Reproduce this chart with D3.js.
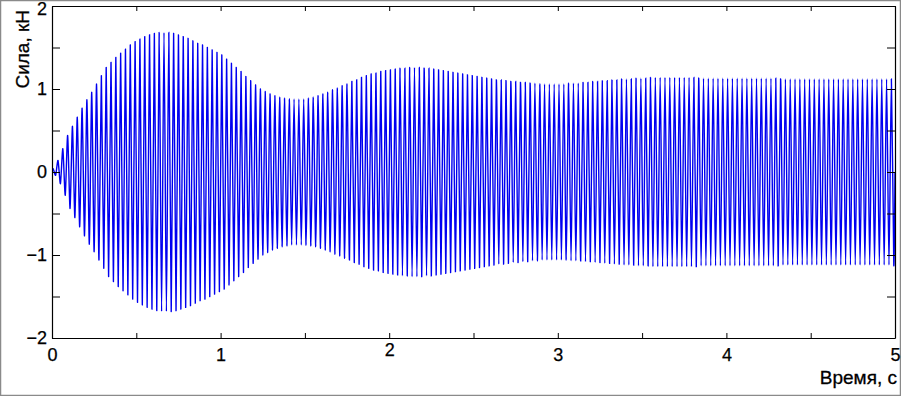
<!DOCTYPE html>
<html>
<head>
<meta charset="utf-8">
<script src="https://d3js.org/d3.v7.min.js"></script>
<style>
body { margin: 0; background: #fff; }
svg { display: block; font-family: "Liberation Sans", Arial, sans-serif; }
.axis path, .axis line { stroke: #000; }
.axis text { font-size: 18px; fill: #000; stroke: #000; stroke-width: 0.25; }
.title { stroke: #000; stroke-width: 0.3; }
</style>
</head>
<body>
<script>

/* signal: one amplitude per oscillation cycle (kN) */
var cycleHz = 35;
var peakAmp = [
  0.04, 0.14, 0.28, 0.44, 0.55, 0.66, 0.77, 0.87, 0.96, 1.06,
  1.16, 1.26, 1.32, 1.38, 1.43, 1.48, 1.53, 1.57, 1.60, 1.63,
  1.65, 1.67, 1.68, 1.68, 1.68, 1.67, 1.65, 1.63, 1.61, 1.58,
  1.55, 1.53, 1.50, 1.47, 1.44, 1.41, 1.36, 1.31, 1.26, 1.21,
  1.15, 1.10, 1.05, 1.00, 0.97, 0.94, 0.92, 0.90, 0.89, 0.88,
  0.88, 0.88, 0.88, 0.89, 0.90, 0.92, 0.94, 0.96, 0.99, 1.01,
  1.04, 1.06, 1.09, 1.11, 1.14, 1.16, 1.18, 1.19, 1.21, 1.22,
  1.23, 1.24, 1.25, 1.25, 1.26, 1.26, 1.26, 1.25, 1.25, 1.24,
  1.23, 1.22, 1.21, 1.20, 1.19, 1.18, 1.17, 1.16, 1.15, 1.14,
  1.13, 1.12, 1.11, 1.11, 1.10, 1.09, 1.09, 1.08, 1.08, 1.07,
  1.07, 1.06, 1.06, 1.06, 1.06, 1.06, 1.06, 1.07, 1.07, 1.07,
  1.08, 1.08, 1.09, 1.09, 1.10, 1.10, 1.11, 1.11, 1.12, 1.12,
  1.12, 1.13, 1.13, 1.13, 1.14, 1.14, 1.14, 1.14, 1.14, 1.14,
  1.14, 1.14, 1.14, 1.14, 1.13, 1.13, 1.13, 1.13, 1.13, 1.13,
  1.13, 1.13, 1.13, 1.13, 1.13, 1.13, 1.13, 1.13, 1.13, 1.13,
  1.13, 1.12, 1.12, 1.12, 1.12, 1.12, 1.12, 1.12, 1.12, 1.12,
  1.12, 1.12, 1.12, 1.12, 1.12, 1.12, 1.12, 1.12, 1.12, 1.12,
  1.12, 1.12, 1.12, 1.12, 1.12
];

var xTicks = [0, 0.5, 1, 1.5, 2, 2.5, 3, 3.5, 4, 4.5, 5];
var yTicks = [-2, -1.5, -1, -0.5, 0, 0.5, 1, 1.5, 2];
var xLabel = "Время, с";
var yLabel = "Сила, кН";

var W = 901, H = 396;
var pLeft = 52, pRight = 895, pTop = 6, pBottom = 338;

var svg = d3.select("body").append("svg")
  .attr("width", W)
  .attr("height", H);

// grey frame round the figure
svg.append("rect")
  .attr("x", 0.5).attr("y", 0.5)
  .attr("width", W - 1).attr("height", H - 1)
  .attr("fill", "#fff")
  .attr("stroke", "#8a8a8a")
  .attr("stroke-width", 1.5);

var x = d3.scaleLinear().domain([0, 5]).range([pLeft, pRight]);
var y = d3.scaleLinear().domain([-2, 2]).range([pBottom, pTop]);

var fmt = function(d) {
  return Number.isInteger(d) ? d3.format("d")(d) : "";
};

// build the line: zero start, then +A / -A for each cycle
var pts = [[0, 0]];
peakAmp.forEach(function(a, i) {
  pts.push([(i + 0.25) / cycleHz, a]);
  pts.push([(i + 0.75) / cycleHz, -a]);
});
pts.push([5, 0]);

svg.append("clipPath").attr("id", "clip")
  .append("rect")
  .attr("x", pLeft).attr("y", pTop)
  .attr("width", pRight - pLeft).attr("height", pBottom - pTop);

var line = d3.line()
  .x(function(d) { return x(d[0]); })
  .y(function(d) { return y(d[1]); })
  .curve(d3.curveCardinal.tension(0.3));

svg.append("path")
  .datum(pts)
  .attr("clip-path", "url(#clip)")
  .attr("fill", "none")
  .attr("stroke", "#0000f0")
  .attr("stroke-width", 1.4)
  .attr("d", line);

/* axes, ticks pointing inward on all four sides */
svg.append("g").attr("class", "axis")
  .attr("transform", "translate(0," + pBottom + ")")
  .call(d3.axisBottom(x).tickValues(xTicks).tickFormat(fmt)
    .tickSizeInner(-5).tickSizeOuter(0).tickPadding(10));

svg.append("g").attr("class", "axis")
  .attr("transform", "translate(0," + pTop + ")")
  .call(d3.axisTop(x).tickValues(xTicks).tickFormat("")
    .tickSizeInner(-5).tickSizeOuter(0));

svg.append("g").attr("class", "axis")
  .attr("transform", "translate(" + pLeft + ",0)")
  .call(d3.axisLeft(y).tickValues(yTicks).tickFormat(fmt)
    .tickSizeInner(-8).tickSizeOuter(0).tickPadding(5));

svg.append("g").attr("class", "axis")
  .attr("transform", "translate(" + pRight + ",0)")
  .call(d3.axisRight(y).tickValues(yTicks).tickFormat("")
    .tickSizeInner(-8).tickSizeOuter(0));

svg.selectAll(".axis .domain").attr("stroke-width", 1.2);

// the top label "2" sits against the frame, nudge it down a little
svg.selectAll(".axis text").filter(function(d) { return d === 2; })
  .attr("dy", "0.45em");

// axis titles
svg.append("text")
  .attr("class", "title")
  .attr("x", pRight + 2)
  .attr("y", 384)
  .attr("text-anchor", "end")
  .attr("font-size", 19)
  .text(xLabel);

svg.append("text")
  .attr("class", "title")
  .attr("transform", "translate(29,10) rotate(-90)")
  .attr("text-anchor", "end")
  .attr("font-size", 19)
  .text(yLabel);

</script>
</body>
</html>
